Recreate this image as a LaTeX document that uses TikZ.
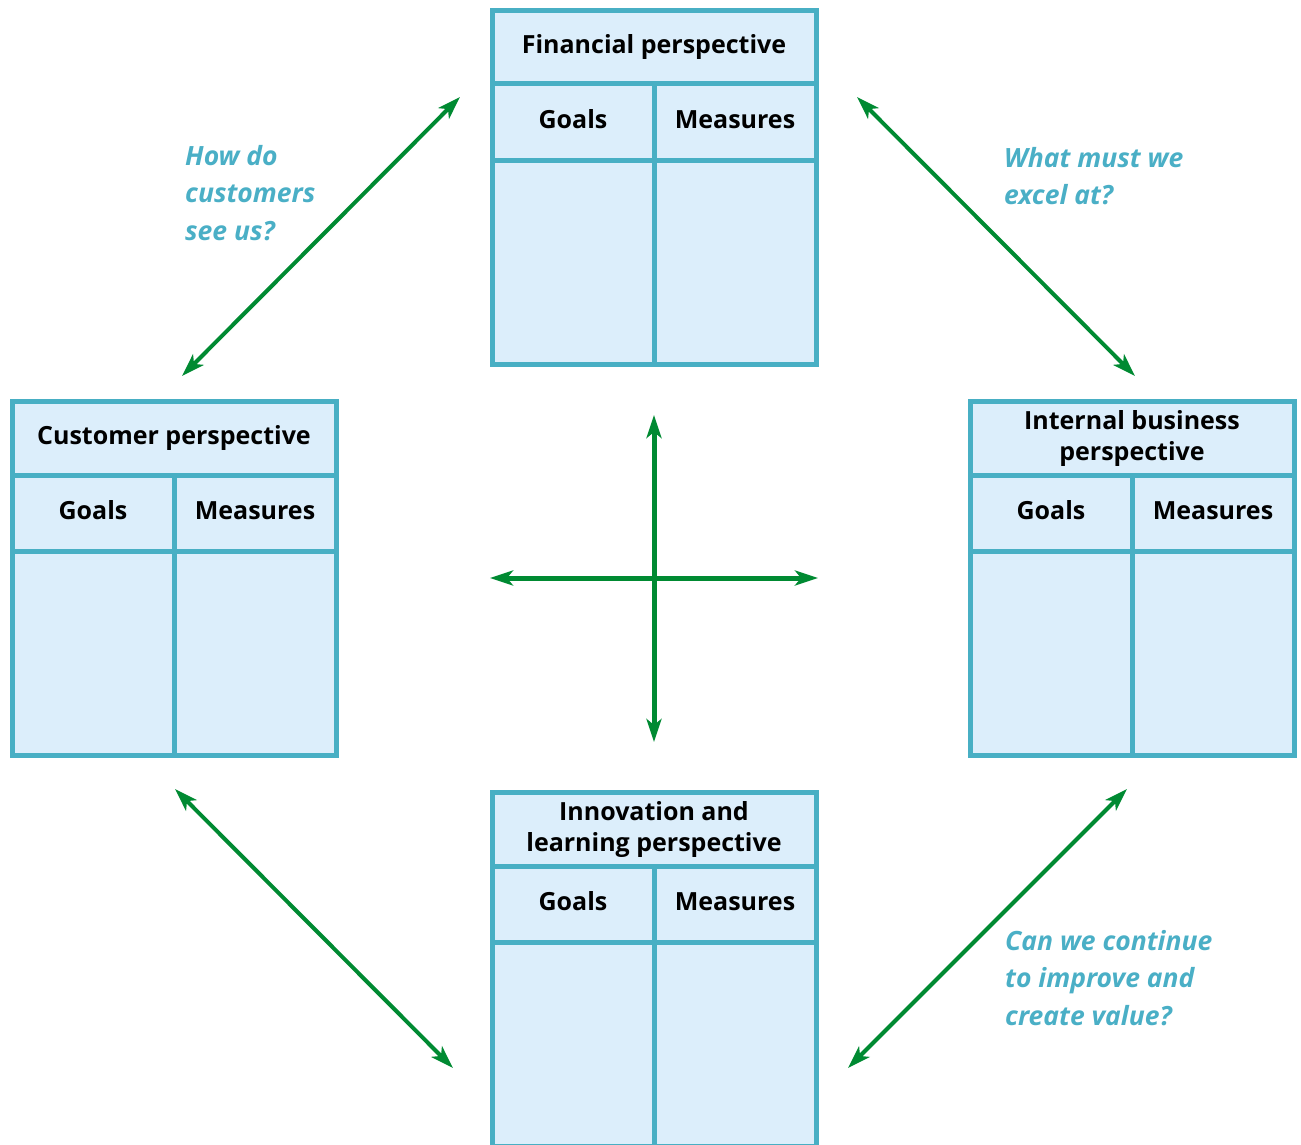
\documentclass[tikz,border=0pt]{standalone}
\usepackage{fontspec}
\setmainfont{Open Sans}
\usetikzlibrary{arrows.meta}
\definecolor{bord}{HTML}{48AFC4}
\definecolor{cellfill}{HTML}{DCEEFB}
\definecolor{grn}{HTML}{008A32}
\definecolor{qcol}{HTML}{4AAFC6}
\tikzset{
  cell/.style={draw=bord, fill=cellfill, line width=5pt, outer sep=0pt, inner sep=0pt,
    anchor=north west, font=\bfseries\fontsize{25}{32}\selectfont, align=center},
  colhead/.style={cell, minimum width=162pt, minimum height=76.5pt, text height=17pt, text depth=4.5pt},
  biarrow/.style={grn, line width=4pt,
    {Stealth[length=23pt,width=15pt,inset=6pt]}-{Stealth[length=23pt,width=15pt,inset=6pt]}},
  question/.style={qcol, font=\bfseries\itshape\fontsize{26.5}{37.5}\selectfont,
    align=left, anchor=north west, inner sep=0pt}
}
\newcommand\bscpanel[4]{%
  \node[cell, minimum width=324pt, minimum height=73.5pt] (#1-h) at (#2,#3) {#4};
  \node[colhead] (#1-g) at ({#2},{#3+73.5}) {Goals};
  \node[colhead] (#1-m) at ({#2+162},{#3+73.5}) {Measures};
  \node[cell, minimum width=162pt, minimum height=204pt] (#1-gb) at ({#2},{#3+150}) {};
  \node[cell, minimum width=162pt, minimum height=204pt] (#1-mb) at ({#2+162},{#3+150}) {};
}
\begin{document}
\begin{tikzpicture}[x=1pt,y=-1pt]
  \useasboundingbox (0,0) rectangle (1301,1144);
  \clip (0,0) rectangle (1301,1144);
  \bscpanel{fin}{492}{10}{Financial perspective}
  \bscpanel{cus}{12}{401.5}{Customer perspective}
  \bscpanel{int}{970}{401.5}{Internal business\\[-1pt]perspective}
  \bscpanel{inn}{492}{792.5}{Innovation and\\[-1pt]learning perspective}

  \coordinate (a1s) at (182,376);  \coordinate (a1e) at (460,97);
  \coordinate (a2s) at (857,97);   \coordinate (a2e) at (1135,376);
  \coordinate (a3s) at (175,789);  \coordinate (a3e) at (453,1068);
  \coordinate (a4s) at (1127,789); \coordinate (a4e) at (848,1068);
  \coordinate (vt) at (654,415);   \coordinate (vb) at (654,742);
  \coordinate (hl) at (490,578);   \coordinate (hr) at (818,578);

  \draw[biarrow] (a1s) -- (a1e);
  \draw[biarrow] (a2s) -- (a2e);
  \draw[biarrow] (a3s) -- (a3e);
  \draw[biarrow] (a4s) -- (a4e);
  \draw[biarrow, line width=5pt] (vt) -- (vb);
  \draw[biarrow, line width=5pt] (hl) -- (hr);

  \node[question] (q1) at (185,145) {How do\\customers\\see us?};
  \node[question] (q2) at (1004,147) {What must we\\excel at?};
  \node[question] (q3) at (1005,930) {Can we continue\\to improve and\\create value?};
\end{tikzpicture}
\end{document}
